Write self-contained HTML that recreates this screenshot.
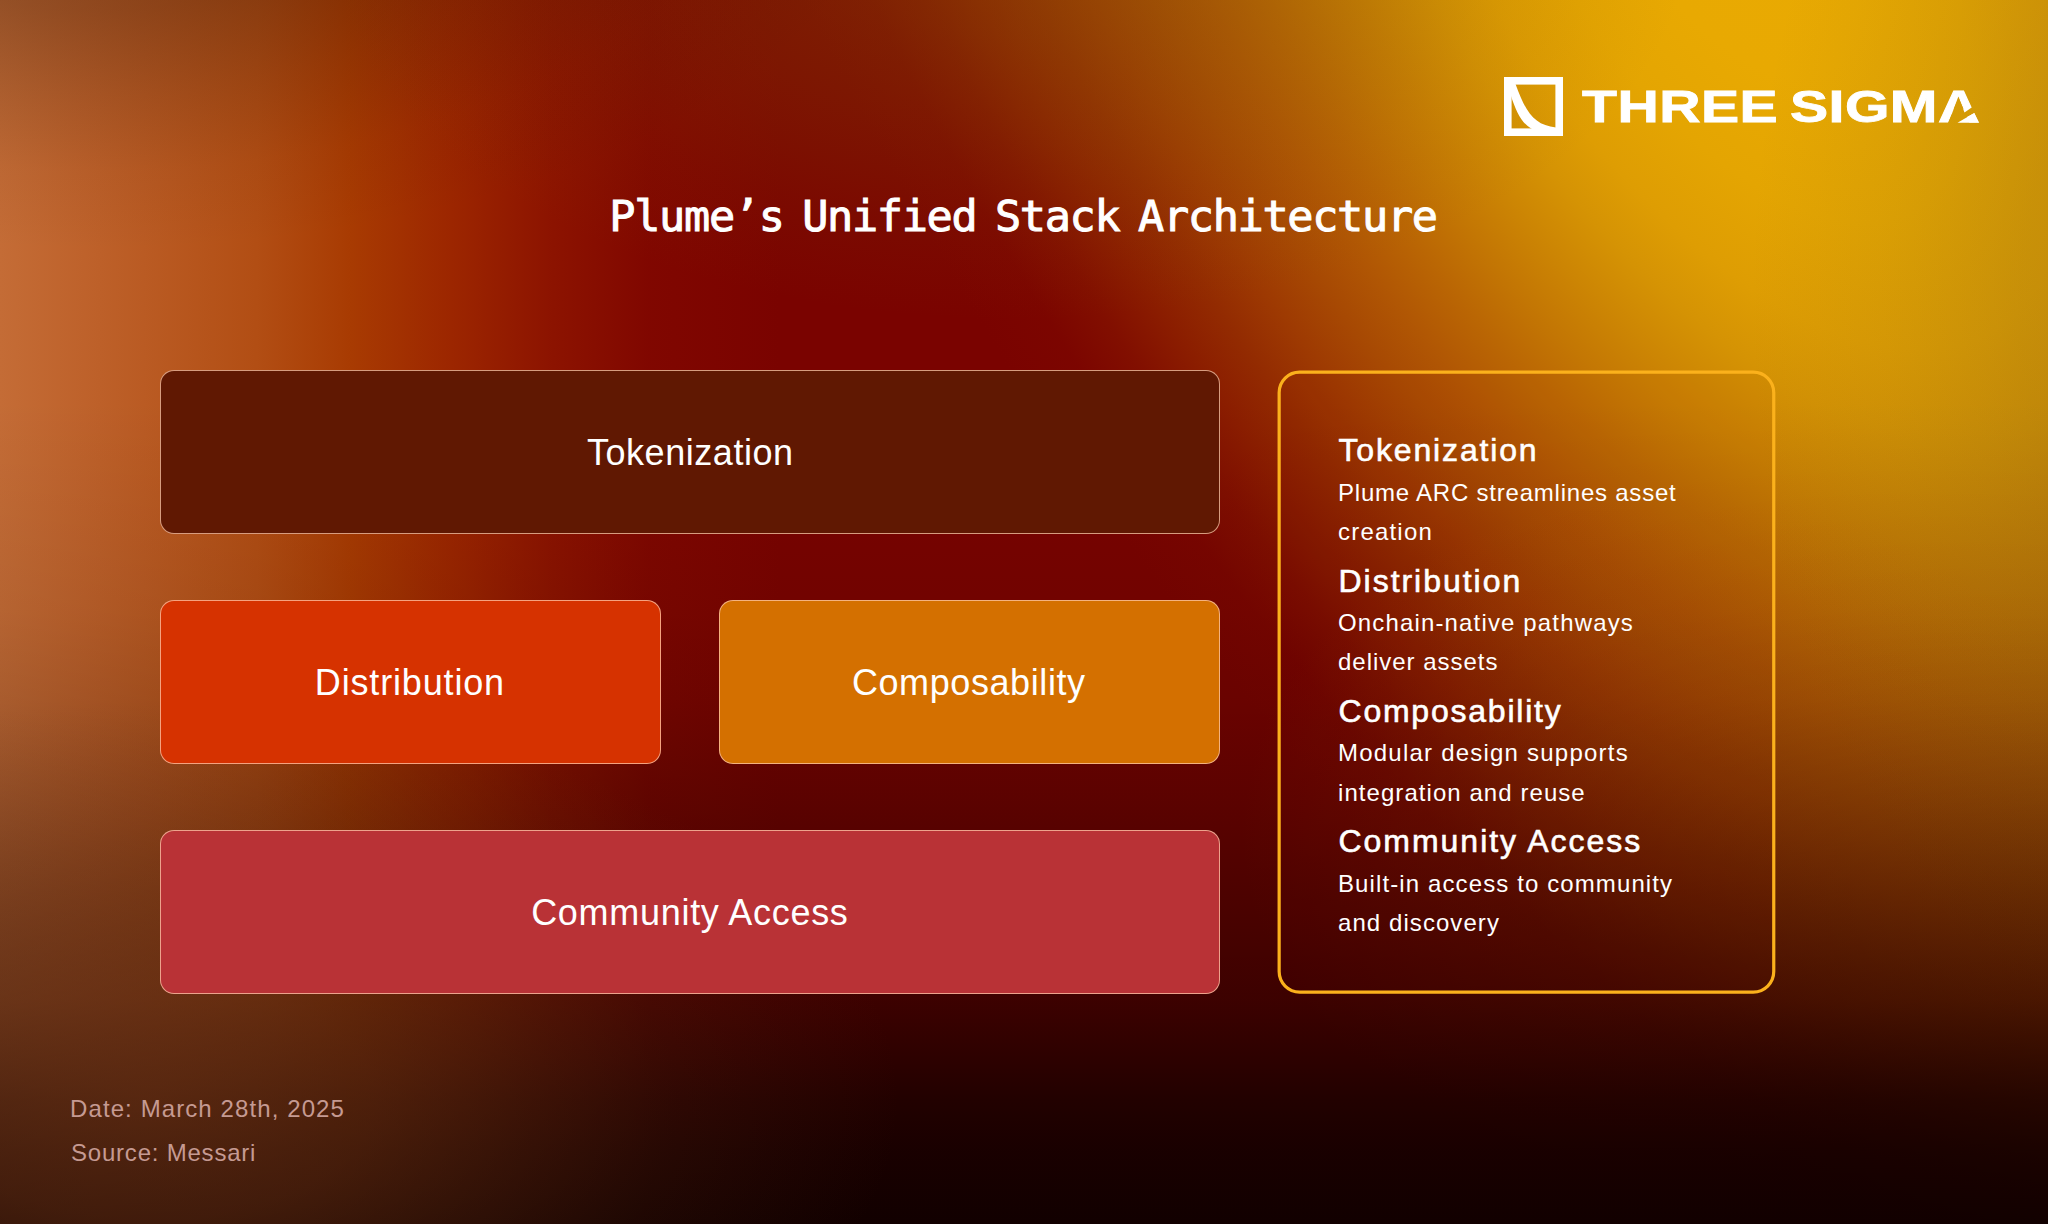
<!DOCTYPE html>
<html lang="en">
<head>
<meta charset="utf-8">
<title>Plume's Unified Stack Architecture</title>
<style>
*{margin:0;padding:0;box-sizing:border-box}
html,body{width:2048px;height:1224px;overflow:hidden;background:#780300}
body{position:relative;font-family:"Liberation Sans",sans-serif;color:#fff}
#bg{position:absolute;left:0;top:0;width:2048px;height:1224px;overflow:hidden;background:#7a0300}
#bg div{position:absolute}
#band{left:0;top:0;width:900px;height:1224px;background:linear-gradient(90deg,#c46c36 0,#bd6029 100px,#b24e14 256px,#a83b02 350px,rgba(160,42,0,.9) 450px,rgba(150,28,0,.66) 550px,rgba(140,14,0,.34) 650px,rgba(130,6,0,0) 780px)}
#glow{left:866px;top:-1867px;width:1711px;height:3526px;transform:rotate(-32.1deg);background:radial-gradient(closest-side,rgba(233,170,2,1.00) 0.0%,rgba(232,169,2,1.00) 11.6%,rgba(228,165,2,1.00) 20.9%,rgba(222,157,3,1.00) 29.1%,rgba(213,147,4,1.00) 34.9%,rgba(204,133,4,1.00) 40.7%,rgba(195,118,4,1.00) 46.5%,rgba(186,102,4,1.00) 52.3%,rgba(177,87,4,1.00) 58.1%,rgba(167,73,3,1.00) 64.0%,rgba(158,58,2,1.00) 69.8%,rgba(147,43,1,1.00) 75.6%,rgba(139,29,0,1.00) 81.4%,rgba(131,17,0,0.85) 87.2%,rgba(125,7,0,0.55) 93.0%,rgba(122,3,0,0.00) 100.0%)}
#olive{left:1750px;top:-450px;width:900px;height:1500px;background:radial-gradient(closest-side,rgba(110,90,30,.26) 0,rgba(110,90,30,.2) 40%,rgba(110,90,30,.09) 70%,rgba(110,90,30,0) 100%)}
#topl{left:-700px;top:-550px;width:1600px;height:800px;background:radial-gradient(closest-side,rgba(40,16,4,.45) 0,rgba(40,16,4,.3) 40%,rgba(40,16,4,.17) 60%,rgba(40,16,4,.05) 80%,rgba(40,16,4,0) 100%)}
#haze{left:330px;top:-440px;width:1360px;height:760px;background:radial-gradient(closest-side,rgba(135,88,8,.38) 0,rgba(135,88,8,.33) 25%,rgba(135,88,8,.22) 50%,rgba(135,88,8,.09) 75%,rgba(135,88,8,0) 100%)}
#lr{left:1240px;top:490px;width:880px;height:680px;background:radial-gradient(closest-side,rgba(200,105,10,.2) 0,rgba(200,105,10,.17) 30%,rgba(200,105,10,.1) 60%,rgba(200,105,10,.04) 85%,rgba(200,105,10,0) 100%)}
#dark{left:0;top:0;width:2048px;height:1224px;background:linear-gradient(180deg,rgba(12,0,0,0) 400px,rgba(12,0,0,.05) 540px,rgba(12,0,0,.08) 612px,rgba(12,0,0,.15) 700px,rgba(12,0,0,.28) 800px,rgba(12,0,0,.42) 900px,rgba(12,0,0,.56) 1000px,rgba(12,0,0,.68) 1050px,rgba(12,0,0,.8) 1100px,rgba(12,0,0,.88) 1150px,rgba(12,0,0,.95) 1224px)}
#bl{left:-600px;top:700px;width:1500px;height:800px;background:radial-gradient(closest-side,rgba(124,58,24,.52) 0,rgba(124,58,24,.42) 30%,rgba(124,58,24,.27) 50%,rgba(124,58,24,.13) 70%,rgba(124,58,24,0) 100%)}
.box{position:absolute;border:1px solid rgba(255,200,170,.75);border-radius:14px;display:flex;align-items:center;justify-content:center;font-size:36px;color:#fff}
#b1{left:160px;top:370px;width:1060px;height:164px;background:#601802}
#b2{left:160px;top:600px;width:501px;height:164px;background:#d63200}
#b3{left:719px;top:600px;width:501px;height:164px;background:#d47000}
#b4{left:160px;top:830px;width:1060px;height:164px;background:#b93236}
#panel{position:absolute;left:1270px;top:364px;width:520px;height:640px}
.h{position:absolute;left:1338.5px;font-size:32px;-webkit-text-stroke:.6px #fff;white-space:nowrap;line-height:40px}
.p{position:absolute;left:1338px;font-size:24px;white-space:nowrap;line-height:30px}
#title{position:absolute;left:-1px;top:186px;width:2048px;text-align:center;font-family:"DejaVu Sans Mono","Liberation Mono",monospace;font-size:43.5px;line-height:60px;white-space:nowrap;letter-spacing:-1.3px;word-spacing:-6.3px;-webkit-text-stroke:1px #fff}
.foot{position:absolute;left:71px;font-size:24px;line-height:30px;color:#c59a92;white-space:nowrap}
#logo{position:absolute;left:1504px;top:77px;width:59px;height:59px}
#brand{position:absolute;left:1582px;top:82px;font-weight:bold;font-size:44px;line-height:50px;white-space:nowrap;transform-origin:0 0;transform:scaleX(1.30);letter-spacing:.34px;word-spacing:-3.4px;-webkit-text-stroke:.8px #fff;clip-path:path(evenodd,'M-20 -20 H420 V80 H-20 Z M289.54 14.50 L294.23 30.45 L310.00 16.30 L310.00 25.20 L295.77 35.20 L298.46 43.50 L281.15 43.50 Z')}
</style>
</head>
<body>
<div id="bg"><div id="band"></div><div id="glow"></div><div id="haze"></div><div id="olive"></div><div id="topl"></div><div id="lr"></div><div id="dark"></div><div id="bl"></div></div>
<svg id="logo" viewBox="0 0 59 59"><rect x="3.8" y="3.8" width="51.4" height="51.4" fill="none" stroke="#fff" stroke-width="7.6"/><path d="M7 19 C12 34 17 46 28 52 L41 52 L52 52 L52 50.5 C30 48 22 36 11.500 7 L7 7 Z" fill="#fff"/></svg>
<svg id="tri" style="position:absolute;left:1950px;top:105px;width:40px;height:25px" viewBox="1950 105 40 25"><polygon points="1957.5,122.8 1974.3,113.1 1979.2,122.8" fill="#fff"/></svg>
<div id="brand">THREE SIGMA</div>
<div id="title">Plume’s Unified Stack Architecture</div>
<div class="box" id="b1"><span id="t1" style="letter-spacing:0.55px;margin-right:-0.55px;position:relative;top:1px">Tokenization</span></div>
<div class="box" id="b2"><span id="t2" style="letter-spacing:0.84px;margin-right:-0.84px;position:relative;top:1px;left:-1px">Distribution</span></div>
<div class="box" id="b3"><span id="t3" style="letter-spacing:0.59px;margin-right:-0.59px;position:relative;top:1px;left:-1px">Composability</span></div>
<div class="box" id="b4"><span id="t4" style="letter-spacing:0.71px;margin-right:-0.71px;position:relative;top:1px;left:-0.5px">Community Access</span></div>
<svg id="panel" width="520" height="640" viewBox="1270 364 520 640"><rect x="1279.15" y="372.15" width="494.6" height="619.9" rx="20.5" ry="20.5" fill="rgba(120,0,0,.04)" stroke="#fbb11c" stroke-width="3.2"/></svg>
<div id="h1" class="h" style="top:430.4px;letter-spacing:1.84px">Tokenization</div>
<div id="p1a" class="p" style="top:477.9px;letter-spacing:0.78px">Plume ARC streamlines asset</div>
<div id="p1b" class="p" style="top:517.0px;letter-spacing:1.20px">creation</div>
<div id="h2" class="h" style="top:560.8px;letter-spacing:1.97px">Distribution</div>
<div id="p2a" class="p" style="top:608.1px;letter-spacing:1.15px">Onchain-native pathways</div>
<div id="p2b" class="p" style="top:647.1px;letter-spacing:0.98px">deliver assets</div>
<div id="h3" class="h" style="top:691.2px;letter-spacing:1.77px">Composability</div>
<div id="p3a" class="p" style="top:738.3px;letter-spacing:1.22px">Modular design supports</div>
<div id="p3b" class="p" style="top:777.6px;letter-spacing:1.06px">integration and reuse</div>
<div id="h4" class="h" style="top:821.4px;letter-spacing:1.97px">Community Access</div>
<div id="p4a" class="p" style="top:868.9px;letter-spacing:1.11px">Built-in access to community</div>
<div id="p4b" class="p" style="top:908.2px;letter-spacing:1.07px">and discovery</div>
<div id="f1" class="foot" style="left:70px;top:1093.9px;letter-spacing:1.10px">Date: March 28th, 2025</div>
<div id="f2" class="foot" style="top:1137.9px;letter-spacing:0.79px">Source: Messari</div>
</body>
</html>
